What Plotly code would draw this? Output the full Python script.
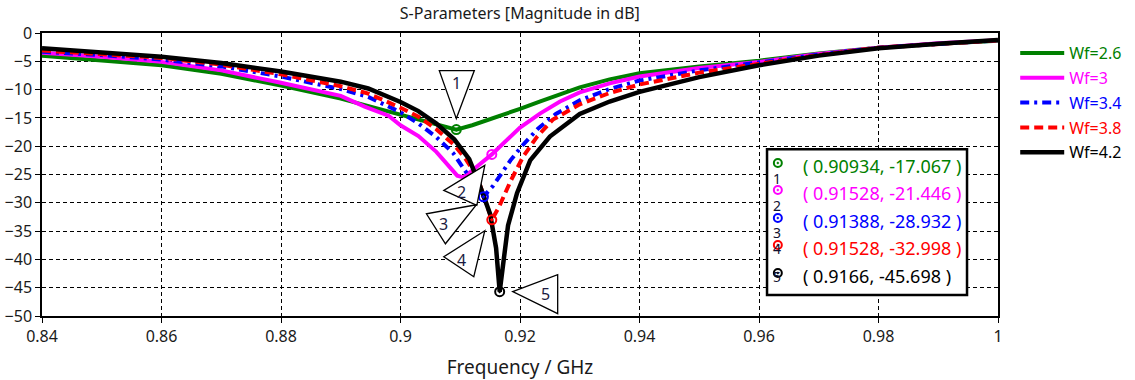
import plotly.graph_objects as go

# ---------------- data ----------------
series_names = ["Wf=2.6", "Wf=3", "Wf=3.4", "Wf=3.8", "Wf=4.2"]
series_colors = ["#008000", "#ff00ff", "#0000ff", "#ff0000", "#000000"]

freq_wf26 = [0.84, 0.85, 0.86, 0.87, 0.88, 0.89, 0.894, 0.898, 0.9, 0.903, 0.906, 0.90934,
             0.912, 0.9155, 0.92, 0.9234, 0.9267, 0.93, 0.935, 0.94, 0.95, 0.96, 0.97, 0.98, 0.99, 1.0]
db_wf26 = [-4.0, -4.8, -5.7, -7.2, -9.3, -11.6, -12.7, -13.9, -14.5, -15.3, -16.1, -17.067,
           -16.3, -15.1, -13.4, -12.1, -10.9, -9.6, -8.2, -7.1, -5.9, -4.9, -3.6, -2.6, -1.9, -1.35]

freq_wf30 = [0.84, 0.85, 0.86, 0.87, 0.88, 0.89, 0.894, 0.898, 0.9, 0.903, 0.906, 0.908, 0.9095,
             0.9105, 0.912, 0.91528, 0.918, 0.92, 0.9234, 0.9267, 0.93, 0.935, 0.94, 0.95, 0.96,
             0.97, 0.98, 0.99, 1.0]
db_wf30 = [-3.5, -4.2, -5.1, -6.6, -8.8, -11.1, -13.0, -14.6, -16.3, -18.2, -21.0, -23.5, -25.2,
           -25.5, -24.3, -21.446, -18.7, -16.7, -14.2, -12.1, -10.5, -8.9, -7.7, -6.2, -5.1,
           -3.7, -2.6, -1.8, -1.3]

freq_wf34 = [0.84, 0.85, 0.86, 0.87, 0.88, 0.89, 0.8946, 0.9, 0.903, 0.906, 0.9088, 0.9105, 0.912,
             0.91388, 0.9155, 0.9184, 0.9203, 0.923, 0.926, 0.93, 0.935, 0.94, 0.95, 0.96, 0.97,
             0.98, 0.99, 1.0]
db_wf34 = [-3.3, -3.9, -4.7, -5.9, -7.7, -9.9, -11.3, -14.0, -16.0, -18.4, -21.2, -24.0, -26.2,
           -28.932, -27.0, -22.5, -20.0, -16.9, -14.3, -11.9, -9.9, -8.4, -6.6, -5.2, -3.8,
           -2.6, -1.9, -1.3]

freq_wf38 = [0.84, 0.85, 0.86, 0.87, 0.88, 0.89, 0.8946, 0.9, 0.903, 0.906, 0.909, 0.911, 0.9128,
             0.914, 0.91528, 0.9165, 0.9185, 0.9205, 0.9228, 0.9255, 0.93, 0.935, 0.94, 0.95,
             0.96, 0.97, 0.98, 0.99, 1.0]
db_wf38 = [-3.1, -3.7, -4.4, -5.6, -7.3, -9.4, -10.7, -13.2, -14.8, -17.0, -19.8, -22.4, -25.3,
           -29.0, -32.998, -30.7, -26.0, -21.9, -18.4, -15.3, -12.6, -10.6, -9.1, -7.0,
           -5.4, -3.9, -2.6, -1.9, -1.3]

freq_wf42 = [0.84, 0.85, 0.86, 0.87, 0.88, 0.89, 0.8946, 0.9, 0.903, 0.906, 0.909, 0.9115, 0.9133,
             0.915, 0.916, 0.9166, 0.9172, 0.918, 0.9195, 0.9217, 0.925, 0.93, 0.935, 0.94,
             0.95, 0.96, 0.97, 0.98, 0.99, 1.0]
db_wf42 = [-2.7, -3.4, -4.2, -5.3, -6.8, -8.6, -9.8, -12.2, -13.8, -16.0, -18.8, -22.3, -27.0,
           -32.0, -38.0, -45.698, -40.0, -34.0, -28.3, -22.5, -18.3, -14.3, -12.1, -10.4,
           -7.8, -5.7, -4.0, -2.7, -1.9, -1.25]

series_freqs = [freq_wf26, freq_wf30, freq_wf34, freq_wf38, freq_wf42]
series_dbs = [db_wf26, db_wf30, db_wf34, db_wf38, db_wf42]

marker_ids = ["1", "2", "3", "4", "5"]
marker_freq = [0.90934, 0.91528, 0.91388, 0.91528, 0.9166]
marker_db = [-17.067, -21.446, -28.932, -32.998, -45.698]

x_ticks = [0.84, 0.86, 0.88, 0.9, 0.92, 0.94, 0.96, 0.98, 1.0]
x_ticktext = ["0.84", "0.86", "0.88", "0.9", "0.92", "0.94", "0.96", "0.98", "1"]
y_ticks = [0, -5, -10, -15, -20, -25, -30, -35, -40, -45, -50]

# ---------------- styles ----------------
FONT = "Noto Sans"
dashes = ["solid", "solid", "9px,5px,3px,5px", "9px,5px", "solid"]
widths = [4, 4, 4, 4, 4.5]

fig = go.Figure()
for i in range(5):
    fig.add_trace(go.Scatter(
        x=series_freqs[i], y=series_dbs[i], mode="lines",
        name='<span style="color:%s">%s</span>' % (series_colors[i], series_names[i]),
        line=dict(color=series_colors[i], width=widths[i], dash=dashes[i]),
        legendgroup="g%d" % i, hoverinfo="skip"))

# markers on curves
for i in range(5):
    fig.add_trace(go.Scatter(
        x=[marker_freq[i]], y=[marker_db[i]], mode="markers", showlegend=False,
        marker=dict(symbol="circle-open-dot", size=9, color=series_colors[i],
                    line=dict(width=2, color=series_colors[i])),
        hoverinfo="skip"))

# triangle callouts (pixel offsets relative to each marker, screen y down)
tri_offsets = [
    [(0, -11), (-17, -59), (18, -59)],
    [(-7, 11), (-48, 36), (-15, 51)],
    [(-7, 8), (-57, 17), (-38, 47)],
    [(-7, 11), (-48, 37), (-18, 57)],
    [(13, 0), (58, -17), (58, 22)],
]
label_offsets = [(0, -47), (-30, 38), (-40, 27), (-30, 40), (46, 2)]

shapes = []
annotations = []
for i in range(5):
    pts = tri_offsets[i]
    path = "M %g,%g L %g,%g L %g,%g Z" % (pts[0][0], -pts[0][1], pts[1][0], -pts[1][1],
                                          pts[2][0], -pts[2][1])
    shapes.append(dict(type="path", xref="x", yref="y", xsizemode="pixel", ysizemode="pixel",
                       xanchor=marker_freq[i], yanchor=marker_db[i], path=path,
                       fillcolor="white", line=dict(color="black", width=1.3), layer="above"))
    annotations.append(dict(x=marker_freq[i], y=marker_db[i], xref="x", yref="y",
                            text=marker_ids[i], showarrow=False,
                            xshift=label_offsets[i][0], yshift=-label_offsets[i][1],
                            font=dict(family=FONT, size=16, color="#1a1a40")))

# marker readout box
box_x0, box_x1, box_y0, box_y1 = 0.7584, 0.9676, 0.074, 0.589
shapes.append(dict(type="rect", xref="paper", yref="paper", x0=box_x0, x1=box_x1,
                   y0=box_y0, y1=box_y1, fillcolor="white",
                   line=dict(color="black", width=2.5), layer="above"))
row_y = [0.530, 0.4346, 0.3357, 0.2403, 0.1413]
for i in range(5):
    txt = "( %s, %s )" % (("%g" % marker_freq[i]), ("%.3f" % marker_db[i]))
    annotations.append(dict(x=0.7935, y=row_y[i], xref="paper", yref="paper", text=txt,
                            xanchor="left", yanchor="middle", showarrow=False,
                            font=dict(family=FONT, size=18, color=series_colors[i])))
    shapes.append(dict(type="circle", xref="paper", yref="paper", xsizemode="pixel",
                       ysizemode="pixel", xanchor=0.7697, yanchor=row_y[i],
                       x0=-4, x1=4, y0=-1, y1=7, line=dict(color=series_colors[i], width=2),
                       layer="above"))
    shapes.append(dict(type="circle", xref="paper", yref="paper", xsizemode="pixel",
                       ysizemode="pixel", xanchor=0.7697, yanchor=row_y[i],
                       x0=-1, x1=1, y0=2, y1=4, fillcolor=series_colors[i],
                       line=dict(color=series_colors[i], width=0.5), layer="above"))
    annotations.append(dict(x=0.7697, y=row_y[i], xref="paper", yref="paper",
                            text=marker_ids[i], showarrow=False, xshift=5, yshift=-12,
                            font=dict(family=FONT, size=14, color="#101030")))

fig.update_layout(
    width=1135, height=380,
    margin=dict(l=42, r=137, t=33, b=64, autoexpand=False),
    paper_bgcolor="white", plot_bgcolor="white",
    font=dict(family=FONT, size=16, color="#1a1a1a"),
    title=dict(text="S-Parameters [Magnitude in dB]", x=0.458, xanchor="center",
               y=0.966, yanchor="middle", font=dict(family=FONT, size=16, color="#1a1a1a")),
    showlegend=True,
    legend=dict(x=1.018, y=0.989, xanchor="left", yanchor="top", bgcolor="rgba(0,0,0,0)",
                font=dict(family=FONT, size=16), tracegroupgap=1, itemwidth=44),
    shapes=shapes, annotations=annotations,
)
fig.update_xaxes(range=[0.84, 1.0], tickvals=x_ticks, ticktext=x_ticktext, automargin=False,
                 showgrid=True, gridcolor="black", griddash="4px,3px", gridwidth=1,
                 showline=True, linecolor="black", linewidth=1.5, mirror=True,
                 ticks="outside", ticklen=5, tickcolor="black",
                 title=dict(text="Frequency / GHz", standoff=15), zeroline=False)
fig.update_yaxes(range=[-50, 0], tickvals=y_ticks, automargin=False,
                 showgrid=True, gridcolor="black", griddash="4px,3px", gridwidth=1,
                 showline=True, linecolor="black", linewidth=1.5, mirror=True,
                 ticks="outside", ticklen=5, tickcolor="black", zeroline=False)

fig.write_html("out.html", config={"displayModeBar": False},
               post_script="document.body.style.margin='0px';")
